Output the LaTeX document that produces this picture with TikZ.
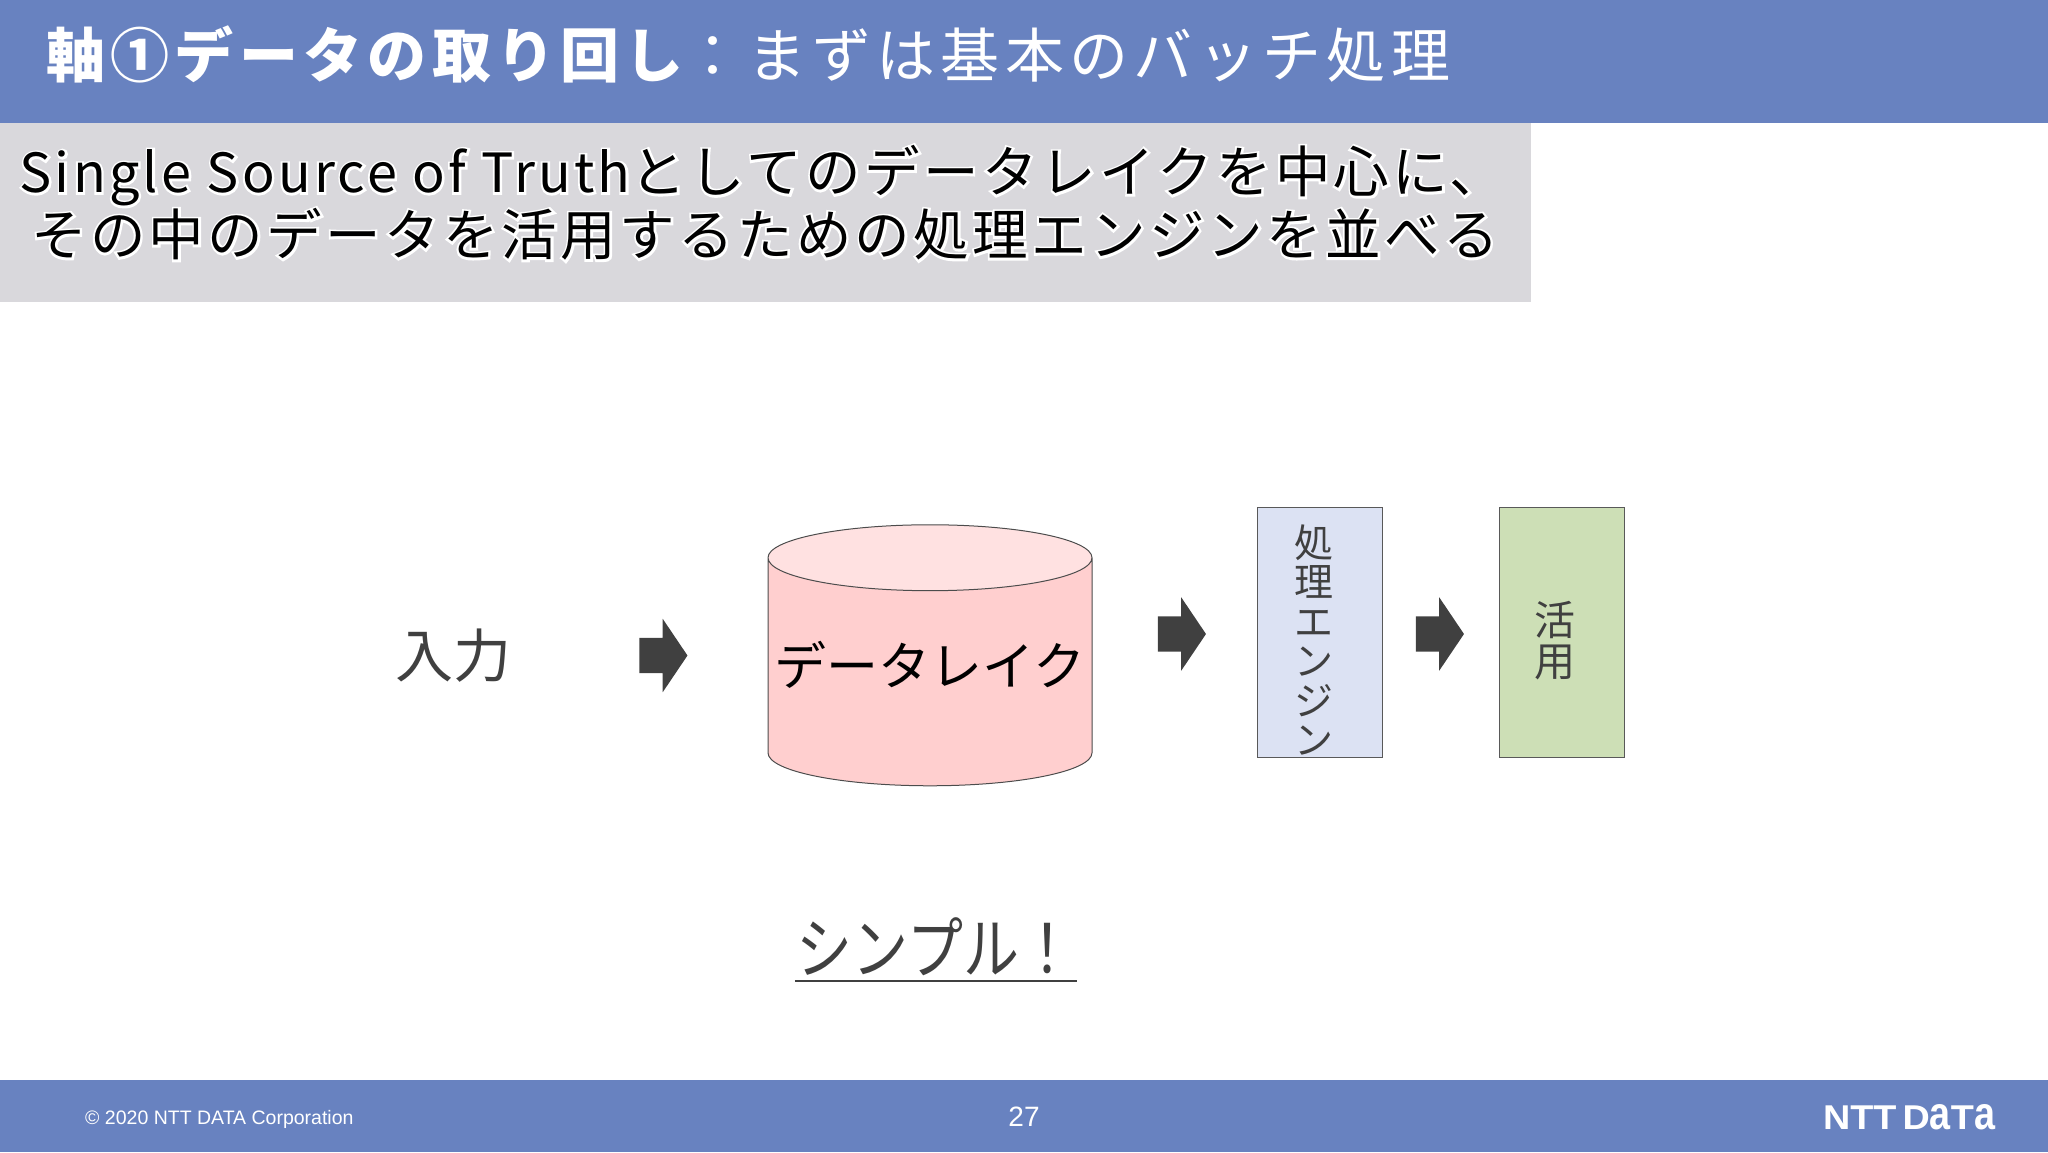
\documentclass[tikz,border=0pt]{standalone}
\usepackage{fontspec}
\usetikzlibrary{shapes.geometric,shapes.arrows}
\setmainfont{Liberation Sans}
\newfontfamily\jpfont{Noto Sans CJK JP}
\newfontfamily\titlefont[LetterSpace=9]{Noto Sans CJK JP}
\newfontfamily\leadfont[LetterSpace=6]{Noto Sans CJK JP}
\newfontfamily\glowfont[LetterSpace=6,FakeBold=8]{Noto Sans CJK JP}
\definecolor{barblue}{HTML}{6882C0}
\definecolor{leadgrey}{HTML}{D9D8DC}
\definecolor{inkgrey}{HTML}{404040}
\definecolor{lakepink}{HTML}{FFCFCF}
\definecolor{laketop}{HTML}{FFE1E1}
\definecolor{engineblue}{HTML}{DCE2F3}
\definecolor{usegreen}{HTML}{CDDFB6}
\newcommand{\glowtext}[1]{\rlap{\color{white}\glowfont #1}#1}
\tikzset{
  blockarrow/.style={single arrow,fill=inkgrey,draw=none,inner sep=0pt,
    text height=35pt,text depth=0pt,text width=0pt,
    minimum width=73pt,minimum height=48pt,single arrow head extend=19pt,
    single arrow tip angle=112,single arrow head indent=0pt},
  stagebox/.style={draw=black!65,line width=1pt,minimum width=125pt,minimum height=250pt},
  talltext/.style={font=\jpfont\fontsize{39}{39.5}\selectfont,text=inkgrey,align=center,inner sep=0pt},
  bigtext/.style={font=\jpfont\fontsize{58}{62}\selectfont,text=inkgrey,inner sep=0pt},
  barlabel/.style={text=white,inner sep=0pt}
}
\begin{document}
\begin{tikzpicture}[x=1pt,y=-1pt]
\useasboundingbox (0,0) rectangle (2048,1152);
% bars
\fill[barblue] (0,0) rectangle (2048,123);
\fill[barblue] (0,1080) rectangle (2048,1152);
\fill[leadgrey] (0,123) rectangle (1531,302);
\node[barlabel,anchor=west,font=\titlefont\fontsize{59}{62}\selectfont] (title) at (46,54)
  {{\bfseries 軸①データの取り回し}：\hspace{5pt}まずは基本のバッチ処理};
\node[inner sep=0pt,align=center,font=\leadfont\fontsize{55.5}{63}\selectfont] (lead) at (765,203)
  {\glowtext{{\fontsize{54}{63}\selectfont Single Source of Truth}としてのデータレイクを中心に、}\hspace*{5pt}\\
   \glowtext{その中のデータを活用するための処理エンジンを並べる}};
% flow
\node[bigtext] (input) at (453,656) {入力};
\node[blockarrow] (arrowa) at (657.5,655.5) {};
\node[cylinder,shape border rotate=90,aspect=0.212,draw=black!70,line width=1pt,
  cylinder uses custom fill,cylinder body fill=lakepink,cylinder end fill=laketop,
  minimum width=324pt,minimum height=261pt,inner sep=0pt,
  font=\jpfont\fontsize{52}{56}\selectfont] (lake) at (930,672) {\raisebox{17pt}{データレイク}};
\node[blockarrow] (arrowb) at (1176,634) {};
\node[stagebox,fill=engineblue] (engine) at (1319.5,632) {};
\node[talltext] (enginetext) at (1314,640) {処\\理\\エ\\ン\\ジ\\ン};
\node[blockarrow] (arrowc) at (1434,634) {};
\node[stagebox,fill=usegreen] (use) at (1561.5,632) {};
\node[talltext,font=\jpfont\fontsize{41}{41}\selectfont] (usetext) at (1555,641) {活\\用};
\node[bigtext,font=\jpfont\fontsize{56}{60}\selectfont,minimum width=282pt,minimum height=68pt] (simple) at (936,947) {\scalebox{1}[1.2]{シンプル！}};
\draw[inkgrey,line width=2.5pt] (simple.south west) -- (simple.south east);
% footer
\node[barlabel,anchor=west,font=\fontsize{19.5}{24}\selectfont] (copyright) at (85,1119) {© 2020 NTT DATA Corporation};
\node[barlabel,font=\fontsize{28}{32}\selectfont] (pagenum) at (1024,1117) {27};
\node[barlabel,font=\bfseries] (logo) at (1909,1117.5) {\resizebox{172pt}{25pt}{NTT\,D\scalebox{1}[1.35]{a}T\scalebox{1}[1.35]{a}}};
\end{tikzpicture}
\end{document}
